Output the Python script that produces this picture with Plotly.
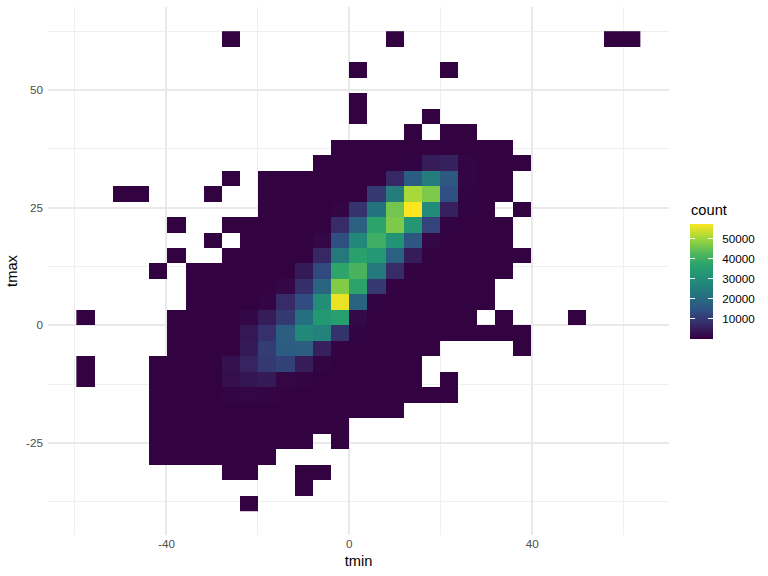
import plotly.graph_objects as go

# bin geometry (edges fall on zero)
x_binwidth = 3.98
y_binwidth = 3.29
x_first_bin = -15
y_top_bin = 18
n_cols = 31
n_rows = 31

# occupied column spans per row (row 0 = top row)
row_spans = [
    [(8, 8), (17, 17), (29, 30)],
    [],
    [(15, 15), (20, 20)],
    [],
    [(15, 15)],
    [(15, 15), (19, 19)],
    [(18, 18), (20, 21)],
    [(14, 23)],
    [(13, 24)],
    [(8, 8), (10, 23)],
    [(2, 3), (7, 7), (10, 23)],
    [(10, 22), (24, 24)],
    [(5, 5), (8, 23)],
    [(7, 7), (9, 23)],
    [(5, 5), (8, 24)],
    [(4, 4), (6, 23)],
    [(6, 22)],
    [(6, 22)],
    [(0, 0), (5, 21), (23, 23), (27, 27)],
    [(5, 24)],
    [(5, 19), (24, 24)],
    [(0, 0), (4, 18)],
    [(0, 0), (4, 18), (20, 20)],
    [(4, 20)],
    [(4, 17)],
    [(4, 14)],
    [(4, 12), (14, 14)],
    [(4, 10)],
    [(8, 9), (12, 13)],
    [(12, 12)],
    [(9, 9)],
]

base_count = 300

# counts above the base level: row -> {column: count}
row_counts = {
    8: {18: 700, 19: 5000, 20: 5500, 21: 900},
    9: {17: 7000, 18: 17000, 19: 25000, 20: 16000, 21: 900},
    10: {16: 10000, 17: 25000, 18: 51000, 19: 47000, 20: 14000, 21: 700},
    11: {14: 900, 15: 9000, 16: 22000, 17: 46000, 18: 57500, 19: 29000, 20: 5500, 21: 700},
    12: {14: 7500, 15: 18000, 16: 37000, 17: 47000, 18: 33000, 19: 12000, 20: 700},
    13: {13: 1200, 14: 14000, 15: 28500, 16: 40000, 17: 32000, 18: 15500, 19: 1300, 20: 500},
    14: {13: 7000, 14: 24000, 15: 36500, 16: 33500, 17: 18000, 18: 5000, 19: 500},
    15: {12: 4500, 13: 13000, 14: 37500, 15: 41500, 16: 24000, 17: 7500, 18: 600},
    16: {10: 500, 11: 1300, 12: 8000, 13: 19000, 14: 47500, 15: 37000, 16: 10000, 17: 600},
    17: {10: 900, 11: 7500, 12: 13500, 13: 30000, 14: 56000, 15: 18500, 16: 700},
    18: {9: 1200, 10: 5000, 11: 10000, 12: 21500, 13: 33500, 14: 36000, 15: 1600},
    19: {9: 4000, 10: 8500, 11: 17500, 12: 28500, 13: 26500, 14: 9000, 15: 700},
    20: {9: 4500, 10: 10500, 11: 17000, 12: 17500, 13: 5500, 14: 600},
    21: {8: 3000, 9: 6000, 10: 10000, 11: 11500, 12: 5000, 13: 800},
    22: {8: 2500, 9: 3800, 10: 4500, 11: 1000, 12: 800},
    23: {8: 900, 9: 1100, 10: 900, 11: 600},
}

count_min = 1
count_max = 57500
count_ticks = [10000, 20000, 30000, 40000, 50000]
x_ticks = [-40, 0, 40]
x_minor = [-60, -20, 20, 60]
y_ticks = [-25, 0, 25, 50]
y_minor = [-37.5, -12.5, 12.5, 37.5, 62.5]

viridis_scale = [
    [0.0, "#33003F"],
    [0.13, "#372B68"],
    [0.25, "#2F5183"],
    [0.375, "#25707F"],
    [0.5, "#228A7A"],
    [0.625, "#259F6E"],
    [0.75, "#53B85B"],
    [0.875, "#A0D83A"],
    [1.0, "#FDE620"],
]

z = []
for r, spans in enumerate(row_spans):
    row = [None] * n_cols
    for a, b in spans:
        for c in range(a, b + 1):
            row[c] = row_counts.get(r, {}).get(c, base_count)
    z.append(row)

x_centers = [(x_first_bin + c + 0.5) * x_binwidth for c in range(n_cols)]
y_centers = [(y_top_bin - r + 0.5) * y_binwidth for r in range(n_rows)]

W, H = 768, 576
P_L, P_R, P_T, P_B = 47.5, 668.8, 7.0, 534.6
GRID = "#E9E9E9"
FONT = "Liberation Sans"

cbar_common = dict(
    xanchor="left",
    xpad=0,
    y=(P_B - 280.8) / (P_B - P_T),
    yanchor="middle",
    ypad=0,
    lenmode="pixels",
    len=115,
    thicknessmode="pixels",
    outlinewidth=0,
    borderwidth=0,
    tickvals=count_ticks,
    ticks="inside",
    ticklen=4.6,
    tickwidth=0.8,
    tickcolor="white",
)

fig = go.Figure(
    go.Heatmap(
        x=x_centers,
        y=y_centers,
        z=z,
        zmin=count_min,
        zmax=count_max,
        colorscale=viridis_scale,
        hoverongaps=False,
        colorbar=dict(
            x=(690 - P_L) / (P_R - P_L),
            thickness=23,
            ticktext=["\u00a0\u00a0" + str(v) for v in count_ticks],
            tickfont=dict(family=FONT, size=11.7, color="#000000"),
            **cbar_common,
        ),
    )
)

# thin left strip of the colour bar, only to carry the left-hand white ticks
fig.add_trace(
    go.Scatter(
        x=[None],
        y=[None],
        mode="markers",
        showlegend=False,
        hoverinfo="skip",
        marker=dict(
            color=[count_min],
            cmin=count_min,
            cmax=count_max,
            colorscale=viridis_scale,
            showscale=True,
            colorbar=dict(
                x=(690 - P_L) / (P_R - P_L),
                thickness=4.6,
                showticklabels=False,
                **cbar_common,
            ),
        ),
    )
)


def axis(title, ticks, minor, rng, standoff, label_standoff):
    return dict(
        title=dict(text=title, font=dict(family=FONT, size=14.67, color="#000000"), standoff=standoff),
        range=rng,
        tickmode="array",
        tickvals=ticks,
        ticktext=[str(v) for v in ticks],
        tickfont=dict(family=FONT, size=11.7, color="#4D4D4D"),
        ticks="",
        ticklabelstandoff=label_standoff,
        showline=False,
        zeroline=False,
        showgrid=True,
        gridcolor=GRID,
        gridwidth=2,
        minor=dict(tickvals=minor, showgrid=True, gridcolor="#EFEFEF", gridwidth=1, ticks=""),
    )


fig.update_layout(
    width=W,
    height=H,
    autosize=False,
    paper_bgcolor="white",
    plot_bgcolor="white",
    margin=dict(l=P_L, r=W - P_R, t=P_T, b=H - P_B, pad=0),
    font=dict(family=FONT),
    xaxis=axis("tmin", x_ticks, x_minor, [(P_L - 349) / 4.575, (P_R - 349) / 4.575], 7, 0),
    yaxis=axis("tmax", y_ticks, y_minor, [(325 - P_B) / 4.7, (325 - P_T) / 4.7], 4, 4),
    annotations=[
        dict(
            text="count",
            xref="paper",
            yref="paper",
            x=(689 - P_L) / (P_R - P_L),
            y=(P_B - 210) / (P_B - P_T),
            xanchor="left",
            yanchor="middle",
            showarrow=False,
            font=dict(family=FONT, size=14.67, color="#000000"),
        )
    ],
)

fig.write_html(
    "out.html",
    config={"displayModeBar": False},
    post_script="document.body.style.margin='0';",
)
